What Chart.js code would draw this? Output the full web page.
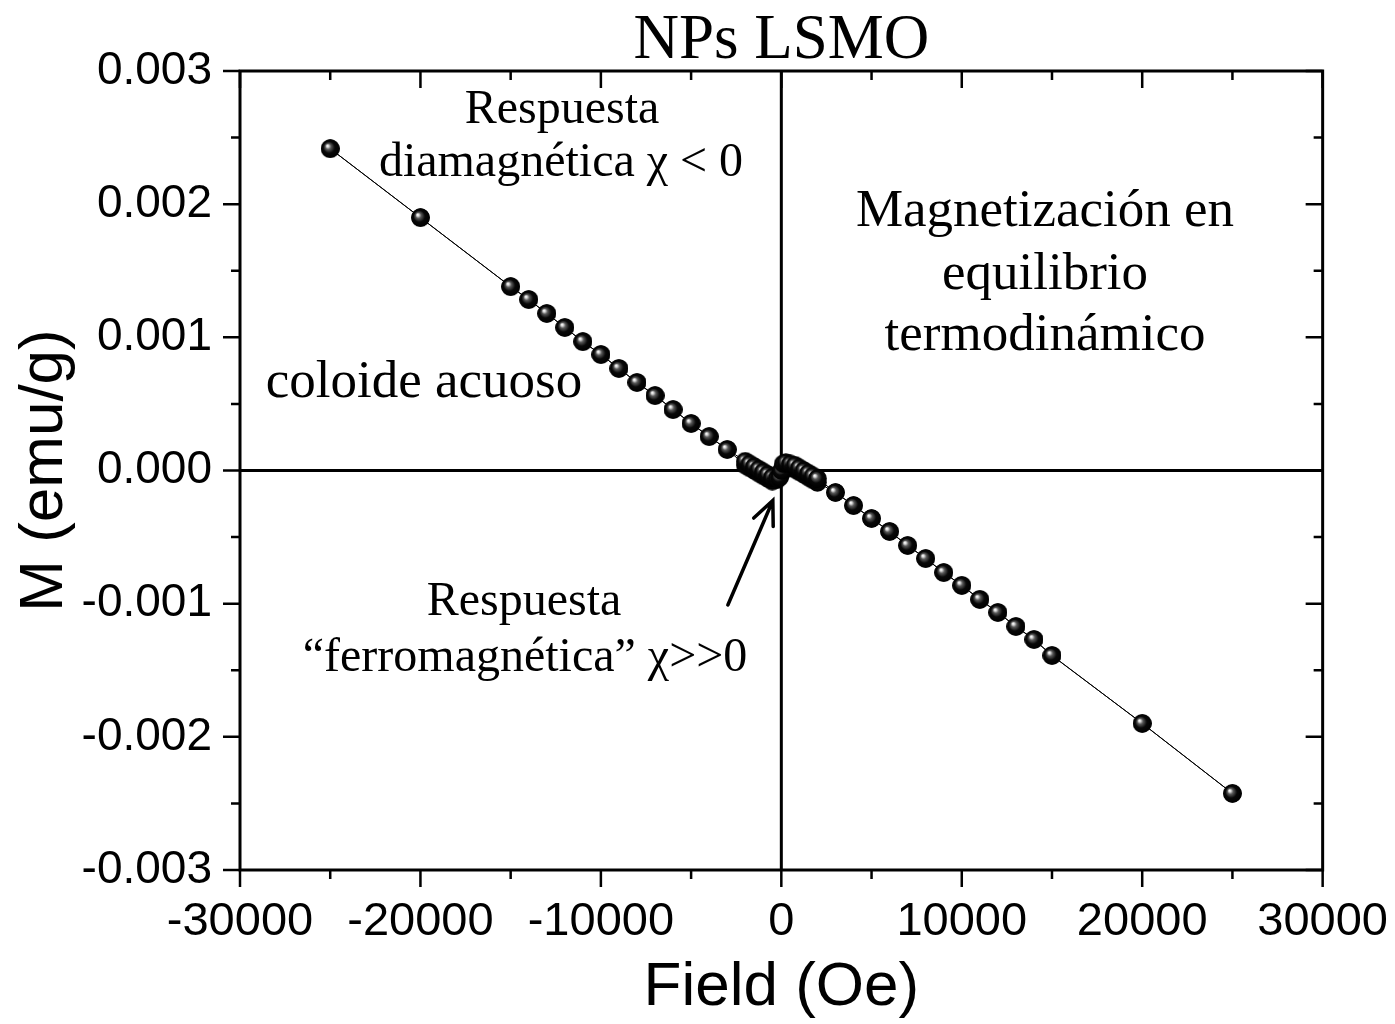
<!DOCTYPE html>
<html><head><meta charset="utf-8">
<script src="https://cdn.jsdelivr.net/npm/chart.js@4.4.1/dist/chart.umd.min.js"></script>
<style>html,body{margin:0;padding:0;background:#fff;} canvas{display:block;}</style>
</head><body>
<canvas id="c" width="1395" height="1024"></canvas>
<script>
// ---- data ----
const fieldDown = [25000, 20000, 15000, 14000, 13000, 12000, 11000, 10000, 9000, 8000, 7000, 6000, 5000, 4000, 3000,
  2000, 1750, 1500, 1250, 1000, 750, 500, 250, 100, 0, -100, -250, -500, -750, -1000, -1250, -1500, -1750, -2000,
  -3000, -4000, -5000, -6000, -7000, -8000, -9000, -10000, -11000, -12000, -13000, -14000, -15000, -20000, -25000];
const mDown = [-0.002425, -0.001899, -0.001389, -0.001269, -0.001171, -0.001066, -0.000968, -0.000863, -0.000766, -0.000661, -0.000563, -0.000458, -0.000360, -0.000263, -0.000165,
  -0.00009, -0.00007, -0.00005, -0.00003, -0.00001, 0.00001, 0.00002, 0.00003, 0.00002, -0.00002, -0.00005, -0.00007, -0.00008, -0.00006, -0.00004, -0.00002, 0.0, 0.00002, 0.00004,
  0.000158, 0.000255, 0.000353, 0.000458, 0.000563, 0.000661, 0.000766, 0.000871, 0.000968, 0.001074, 0.001179, 0.001284, 0.001381, 0.001899, 0.002417];
const fieldUp = [-25000, -20000, -15000, -14000, -13000, -12000, -11000, -10000, -9000, -8000, -7000, -6000, -5000, -4000, -3000,
  -2000, -1750, -1500, -1250, -1000, -750, -500, -250, -100, 0, 100, 250, 500, 750, 1000, 1250, 1500, 1750, 2000,
  3000, 4000, 5000, 6000, 7000, 8000, 9000, 10000, 11000, 12000, 13000, 14000, 15000, 20000, 25000];
const mUp = [0.002417, 0.001899, 0.001381, 0.001284, 0.001179, 0.001074, 0.000968, 0.000871, 0.000766, 0.000661, 0.000563, 0.000458, 0.000353, 0.000255, 0.000158,
  0.00007, 0.00005, 0.00003, 0.00001, -0.00001, -0.00003, -0.00005, -0.00006, -0.00005, 0.0, 0.00005, 0.00006, 0.00005, 0.00004, 0.00002, 0.0, -0.00002, -0.00004, -0.00006,
  -0.000165, -0.000263, -0.000360, -0.000458, -0.000563, -0.000661, -0.000766, -0.000863, -0.000968, -0.001066, -0.001171, -0.001269, -0.001389, -0.001899, -0.002425];
const xTicks = [-30000, -20000, -10000, 0, 10000, 20000, 30000];
const yTicks = [-0.003, -0.002, -0.001, 0.000, 0.001, 0.002, 0.003];
const titleText = 'NPs LSMO';
const xTitle = 'Field (Oe)';
const yTitle = 'M (emu/g)';

const points = [];
fieldDown.forEach((h, i) => points.push({x: h, y: mDown[i]}));
fieldUp.forEach((h, i) => points.push({x: h, y: mUp[i]}));

function makeSphere(d) {
  const c = document.createElement('canvas');
  c.width = c.height = d;
  const g = c.getContext('2d');
  const r = d / 2;
  const grad = g.createRadialGradient(r - r * 0.32, r - r * 0.32, 0, r, r, r);
  grad.addColorStop(0, '#ffffff');
  grad.addColorStop(0.12, '#e0e0e0');
  grad.addColorStop(0.3, '#5a5a5a');
  grad.addColorStop(0.6, '#080808');
  grad.addColorStop(1, '#000000');
  g.fillStyle = grad;
  g.beginPath(); g.arc(r, r, r - 0.2, 0, Math.PI * 2); g.fill();
  return c;
}
const sphere = makeSphere(19);

const frame = {
  id: 'frame',
  beforeDatasetsDraw(chart) {
    const {ctx, chartArea: a, scales: {x, y}} = chart;
    ctx.save();
    ctx.strokeStyle = '#000';
    ctx.lineWidth = 3;
    const x0 = x.getPixelForValue(0), y0 = y.getPixelForValue(0);
    ctx.beginPath();
    ctx.moveTo(a.left, y0); ctx.lineTo(a.right, y0);
    ctx.moveTo(x0, a.top); ctx.lineTo(x0, a.bottom);
    ctx.stroke();
    ctx.restore();
  },
  afterDraw(chart) {
    const {ctx, chartArea: a, scales: {x, y}} = chart;
    ctx.save();
    ctx.strokeStyle = '#000';
    ctx.lineWidth = 3;
    ctx.strokeRect(a.left, a.top, a.right - a.left, a.bottom - a.top);
    ctx.lineWidth = 2.5;
    ctx.beginPath();
    for (let v = -30000; v <= 30000; v += 5000) {
      const p = x.getPixelForValue(v);
      const len = (v % 10000 === 0) ? 17 : 9;
      ctx.moveTo(p, a.bottom); ctx.lineTo(p, a.bottom + len);
      ctx.moveTo(p, a.top); ctx.lineTo(p, a.top + len);
    }
    for (let k = -6; k <= 6; k++) {
      const v = k * 0.0005;
      const p = y.getPixelForValue(v);
      const len = (k % 2 === 0) ? 17 : 9;
      ctx.moveTo(a.left, p); ctx.lineTo(a.left - len, p);
      ctx.moveTo(a.right, p); ctx.lineTo(a.right - len, p);
    }
    ctx.stroke();

    // title
    ctx.fillStyle = '#000';
    ctx.textAlign = 'center';
    ctx.textBaseline = 'alphabetic';
    ctx.font = '63px "Liberation Serif", "Times New Roman", serif';
    ctx.fillText(titleText, (a.left + a.right) / 2, 58);

    // annotations
    ctx.textBaseline = 'middle';
    const big = '53px "Liberation Serif", "Times New Roman", serif';
    const small = '48px "Liberation Serif", "Times New Roman", serif';
    const notes = [
      ['Respuesta', 562, 110, small],
      ['diamagnética χ < 0', 561, 163, small],
      ['Magnetización en', 1045, 212, big],
      ['equilibrio', 1045, 275, big],
      ['termodinámico', 1045, 336, big],
      ['coloide acuoso', 424, 383, big],
      ['Respuesta', 524, 602, small],
      ['\u201Cferromagnética\u201D χ>>0', 525, 658, small]
    ];
    notes.forEach(([t, px, py, f]) => { ctx.font = f; ctx.fillText(t, px, py); });

    // arrow (in data coordinates)
    const tx = x.getPixelForValue(-2964), ty = y.getPixelForValue(-0.00101);
    const hx = x.getPixelForValue(-470), hy = y.getPixelForValue(-0.000225);
    ctx.lineWidth = 3.5;
    ctx.lineCap = 'round';
    ctx.beginPath();
    ctx.moveTo(tx, ty); ctx.lineTo(hx, hy);
    const ang = Math.atan2(hy - ty, hx - tx);
    const L = 26, w = 0.42;
    ctx.moveTo(hx - L * Math.cos(ang - w), hy - L * Math.sin(ang - w));
    ctx.lineTo(hx, hy);
    ctx.lineTo(hx - L * Math.cos(ang + w), hy - L * Math.sin(ang + w));
    ctx.stroke();
    ctx.restore();
  }
};

new Chart(document.getElementById('c'), {
  type: 'scatter',
  data: {
    datasets: [{
      data: points,
      showLine: true,
      borderColor: '#000',
      borderWidth: 1,
      pointStyle: sphere,
      pointRadius: 9,
      pointHoverRadius: 9
    }]
  },
  options: {
    responsive: false,
    animation: false,
    events: [],
    layout: {padding: {top: 71, right: 72, left: 0, bottom: 0}},
    plugins: {legend: {display: false}, tooltip: {enabled: false}, title: {display: false}},
    scales: {
      x: {
        type: 'linear', min: -30000, max: 30000,
        afterFit(s) { s.height = 154; },
        afterBuildTicks(s) { s.ticks = xTicks.map(v => ({value: v})); },
        grid: {display: true, drawOnChartArea: false, drawTicks: true, tickLength: 17, tickColor: 'rgba(0,0,0,0)'},
        border: {display: false},
        ticks: {padding: 7, color: '#000', maxRotation: 0, autoSkip: false,
          font: {family: '"Liberation Sans", Arial, sans-serif', size: 47},
          callback: v => String(v)},
        title: {display: true, text: xTitle, color: '#000', padding: {top: 0, bottom: 0},
          font: {family: '"Liberation Sans", Arial, sans-serif', size: 62, lineHeight: 1.15}}
      },
      y: {
        type: 'linear', min: -0.003, max: 0.003,
        afterFit(s) { s.width = 240; },
        afterBuildTicks(s) { s.ticks = yTicks.map(v => ({value: v})); },
        grid: {display: true, drawOnChartArea: false, drawTicks: true, tickLength: 17, tickColor: 'rgba(0,0,0,0)'},
        border: {display: false},
        ticks: {padding: 11, color: '#000', autoSkip: false,
          font: {family: '"Liberation Sans", Arial, sans-serif', size: 46},
          callback: v => Number(v).toFixed(3)},
        title: {display: true, text: yTitle, color: '#000', padding: {top: 8, bottom: 0},
          font: {family: '"Liberation Sans", Arial, sans-serif', size: 62, lineHeight: 1.2}}
      }
    }
  },
  plugins: [frame]
});
</script>
</body></html>
